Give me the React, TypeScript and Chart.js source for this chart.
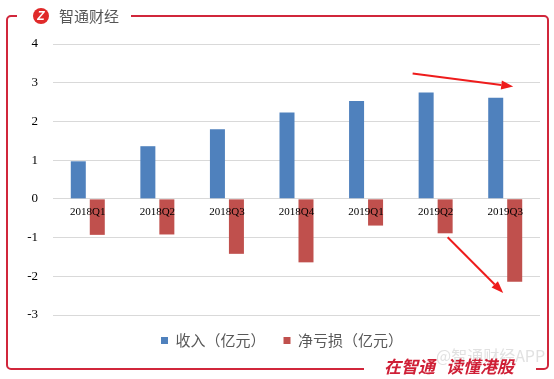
import React, { useEffect, useRef } from "react";
import { Chart, registerables } from "chart.js";

Chart.register(...registerables);

const categories = ["2018Q1", "2018Q2", "2018Q3", "2018Q4", "2019Q1", "2019Q2", "2019Q3"];
const revenue = [0.97, 1.36, 1.8, 2.23, 2.53, 2.75, 2.61];
const netLoss = [-0.93, -0.92, -1.42, -1.64, -0.69, -0.89, -2.14];
const seriesNames = ["收入（亿元）", "净亏损（亿元）"];
const yTicks = [-3, -2, -1, 0, 1, 2, 3, 4];
// arrow annotations: [fromCategory, fromValue, fromOffsetPx, toCategory, toValue, toOffsetPx]
const arrows = [
  [5, 3.24, -23, 6, 2.9, 8],
  [5, -0.99, 12, 6, -2.43, -2],
];

const RED = "#d1263b";

const arrowPlugin = {
  id: "arrows",
  afterDraw(chart: any) {
    const { ctx, scales } = chart;
    const x = scales.x;
    const y = scales.y;
    ctx.save();
    ctx.strokeStyle = "#ee1c1c";
    ctx.fillStyle = "#ee1c1c";
    ctx.lineWidth = 2;
    for (const a of arrows) {
      const x1 = x.getPixelForValue(a[0]) + a[2];
      const y1 = y.getPixelForValue(a[1]);
      const x2 = x.getPixelForValue(a[3]) + a[5];
      const y2 = y.getPixelForValue(a[4]);
      const ang = Math.atan2(y2 - y1, x2 - x1);
      const hl = 12;
      const hw = 4.5;
      const bx = x2 - hl * Math.cos(ang);
      const by = y2 - hl * Math.sin(ang);
      ctx.beginPath();
      ctx.moveTo(x1, y1);
      ctx.lineTo(bx, by);
      ctx.stroke();
      ctx.beginPath();
      ctx.moveTo(x2, y2);
      ctx.lineTo(bx + hw * Math.sin(ang), by - hw * Math.cos(ang));
      ctx.lineTo(bx - hw * Math.sin(ang), by + hw * Math.cos(ang));
      ctx.closePath();
      ctx.fill();
    }
    ctx.restore();
  },
};

export default function App() {
  const ref = useRef<HTMLCanvasElement | null>(null);
  useEffect(() => {
    if (!ref.current) return;
    const chart = new Chart(ref.current, {
      type: "bar",
      data: {
        labels: categories,
        datasets: [
          { label: seriesNames[0], data: revenue, backgroundColor: "#4f81bd" },
          { label: seriesNames[1], data: netLoss, backgroundColor: "#c0504d" },
        ],
      },
      options: {
        animation: false,
        responsive: false,
        layout: { padding: { left: 24, right: 14, top: 44, bottom: 21 } },
        datasets: { bar: { categoryPercentage: 0.546, barPercentage: 0.79 } } as any,
        plugins: {
          legend: {
            position: "bottom",
            labels: {
              boxWidth: 7,
              boxHeight: 7,
              padding: 18,
              color: "#595959",
              font: { family: "'Noto Sans CJK SC', sans-serif", size: 15 },
            },
          },
          tooltip: { enabled: false },
        },
        scales: {
          x: {
            position: { y: 0 } as any,
            z: 1,
            grid: { display: false, drawTicks: false },
            border: { display: false },
            ticks: {
              z: 1,
              autoSkip: false,
              maxRotation: 0,
              padding: 7,
              color: "#000",
              font: { family: "'Liberation Serif', serif", size: 11 },
            } as any,
          },
          y: {
            min: -3,
            max: 4,
            afterFit: (s: any) => {
              s.width = 29;
            },
            afterBuildTicks: (s: any) => {
              s.ticks = yTicks.map((v) => ({ value: v }));
            },
            grid: { color: "#d9d9d9", drawTicks: false },
            border: { display: false },
            ticks: {
              padding: 15,
              color: "#000",
              font: { family: "'Liberation Serif', serif", size: 13 },
            },
          },
        },
      },
      plugins: [arrowPlugin],
    });
    return () => chart.destroy();
  }, []);

  return (
    <div style={{ position: "fixed", left: 0, top: 0, width: 554, height: 379, background: "#fff", overflow: "hidden" }}>
      <canvas ref={ref} width={554} height={379} style={{ position: "absolute", left: 0, top: 0, width: 554, height: 379 }} />
      <div style={{ position: "absolute", left: 6, top: 15, width: 539, height: 351, border: `2px solid ${RED}`, borderRadius: 5 }} />
      <div style={{ position: "absolute", left: 17, top: 10, width: 114, height: 14, background: "#fff" }} />
      <div style={{ position: "absolute", left: 33, top: 8, width: 16, height: 16, borderRadius: 8, background: "#e02a2a", color: "#fff", fontFamily: "'Liberation Sans', sans-serif", fontWeight: 700, fontStyle: "italic", fontSize: 12, lineHeight: "16px", textAlign: "center" }}>Z</div>
      <div style={{ position: "absolute", left: 59, top: 6, fontFamily: "'Noto Sans CJK SC', sans-serif", fontSize: 15, lineHeight: "20px", color: "#555" }}>智通财经</div>
      <div style={{ position: "absolute", left: 364, top: 362, width: 172, height: 12, background: "#fff" }} />
      <div style={{ position: "absolute", left: 436, top: 345, fontFamily: "'Noto Sans CJK SC', sans-serif", fontSize: 16, lineHeight: "20px", color: "rgba(200,200,200,0.55)", whiteSpace: "nowrap" }}>@智通财经APP</div>
      <div style={{ position: "absolute", left: 384, top: 355, fontFamily: "'Noto Sans CJK SC', sans-serif", fontSize: 17, fontWeight: 700, fontStyle: "italic", lineHeight: "22px", color: "#cf1f36", whiteSpace: "nowrap" }}>
        在智通<span style={{ marginLeft: 11 }}>读懂港股</span>
      </div>
    </div>
  );
}
